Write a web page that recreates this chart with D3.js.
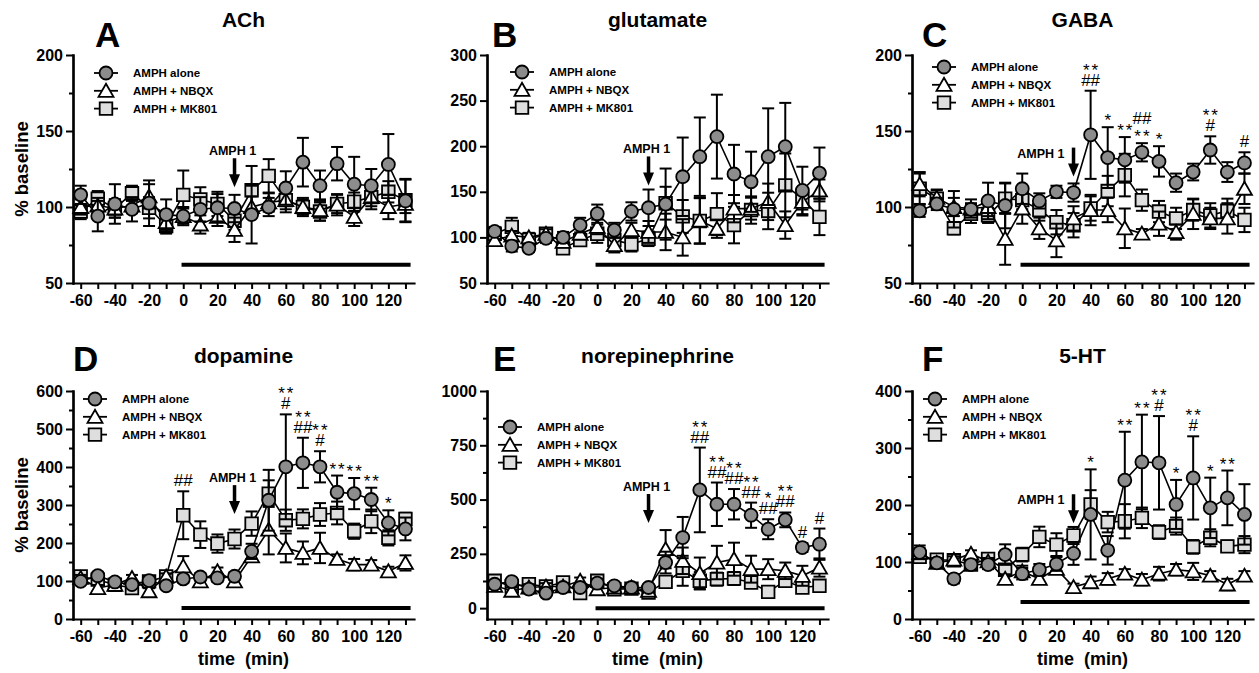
<!DOCTYPE html>
<html>
<head>
<meta charset="utf-8">
<script src="https://cdn.jsdelivr.net/npm/d3@7"></script>
<style>
  body { margin: 0; background: #fff; }
  text { font-family: "Liberation Sans", Arial, sans-serif; fill: #000; }
</style>
</head>
<body>
<svg id="fig" width="1259" height="673"></svg>
<script>
// sampling times (min)
var times = [-60,-50,-40,-30,-20,-10,0,10,20,30,40,50,60,70,80,90,100,110,120,130];
var xTicks = [-60,-50,-40,-30,-20,-10,0,10,20,30,40,50,60,70,80,90,100,110,120,130];
var seriesNames = ["AMPH alone", "AMPH + NBQX", "AMPH + MK801"];
var titles = ["ACh", "glutamate", "GABA", "dopamine", "norepinephrine", "5-HT"];
var letters = ["A", "B", "C", "D", "E", "F"];

// A - ACh
var achAlone    = [108,94,102,98.5,102.5,95,94,98.5,99.5,99,95,100,112.5,129.5,114,128.5,115,114,128,104];
var achAloneSem = [6,10,13,8,15,10,5,8,9,9,19,6,11,16,10,11,18,11,20,14];
var achNbqx     = [100,101,99,101,107,90,94,88.5,93.5,85,100,103,104.5,100,98,101.5,93.5,106.5,100,102];
var achNbqxSem  = [5,5,6,5,8,6,6,6,6,8,7,6,8,6,7,7,6,8,8,6];
var achMk       = [97,105.5,99,109,99.5,87.5,108,105,102,91,111,120.5,104.5,100,97,102,103.5,106.5,110,104.5];
var achMkSem    = [5,5,6,5,7,5,16,8,8,6,16,11,6,5,6,6,6,6,7,14];

// B - glutamate
var gluAlone    = [106.5,90.5,88,99,100,113.5,126,108,128.5,132.5,136.5,166.5,188.5,210.5,169.5,161,188.5,199.5,151.5,170.5];
var gluAloneSem = [5,6,4,5,6,8,10,8,10,20,39,43,43,46,32,33,53,48,26,28];
var gluNbqx     = [97,102,100,104,95,104,111.5,91.5,108,106,106,100,118.5,109.5,131.5,131.5,139,113.5,139,151.5];
var gluNbqxSem  = [5,5,5,5,6,6,8,8,8,12,20,20,25,10,15,12,20,15,15,12];
var gluMk       = [104,111.5,97.5,104,88,97,104,97,92.5,98.5,137.5,123,118,125.5,113.5,130,129,157,142.5,122.5];
var gluMkSem    = [6,10,5,5,6,6,10,8,8,8,18,18,25,23,20,15,20,35,12,20];

// C - GABA
var gabaAlone    = [97.5,102,98.5,98.5,104,101,112,104,110,109.5,147.5,132.5,131,136,130,116,123,137.5,123,129];
var gabaAloneSem = [4,4,12,4,12,15,10,5,4,6,29,20,15,6,10,6,5.5,9,6.5,7];
var gabaNbqx     = [115,106,100,99,100,79,99,86,78,92.5,98,98,86,82.5,89,83.5,95.5,92.5,92.5,112];
var gabaNbqxSem  = [8,5,6,6,6,17,10,7,11,8,10,8,13,3,8,5,10,7,10,10];
var gabaMk       = [112,105.5,86,95.5,94.5,105.5,104.5,98,90,88,99,110.5,121,104.5,97,92.5,98,94.5,97.5,91.5];
var gabaMkSem    = [10,6,4,6,5,10,6,7,8,8,8,10,14,7,7,7,7,8,8,8];

// D - dopamine
var daAlone    = [99,114,97.5,90.5,101,87.5,105.5,110.5,108,112.5,178,312.5,400.5,411,400.5,333.5,330,314.5,253,237];
var daAloneSem = [8,10,8,8,8,8,10,10,10,10,20,80,138,66,41,44,41,31,33,30];
var daNbqx     = [108,81.5,90,108,73,112,138.5,99,125.5,99,165,235,187,174,187,158,143,143,125.5,147.5];
var daNbqxSem  = [8,8,8,8,8,8,27,10,10,10,15,65,38,30,40,12,15,12,12,20];
var daMk       = [112,103.5,90,81.5,99,112,273,222,198.5,210.5,251,330,260,263.5,275,279,231,257,213.5,263.5];
var daMkSem    = [8,10,8,8,8,10,63,35,24,25,32,35,28,25,30,30,20,31,20,16];

// E - norepinephrine
var neAlone    = [110,122.5,87.5,69,95,95,115,103,95,95,210,325,544.5,478.5,478.5,428,363.5,406.5,279,294.5];
var neAloneSem = [15,15,10,10,15,15,20,15,10,15,50,95,195,100,70,58,46,34,20,72];
var neNbqx     = [103,80,95,100,100,126,87,95,95,80,271.5,218,161,210,225.5,179.5,179.5,172,149,187];
var neNbqxSem  = [15,15,15,15,15,15,20,15,15,15,88,61,72,77,76,62,46,38,46,42];
var neMk       = [126,100,110,100,118,69,126,87,90,72,121,172,126,133.5,136.5,118,75,126,95,103];
var neMkSem    = [15,15,15,15,15,15,20,15,15,15,20,69,40,30,30,25,25,25,25,25];

// F - 5-HT
var htAlone    = [117,98.5,70.5,95.5,95.5,113,79.5,86.5,96.5,115,183.5,120.5,243.5,275.5,274,201,247.5,195,212.5,183.5];
var htAloneSem = [12,8,8,8,8,18,10,10,12,20,79,25,85,83,82,43,73,53,48,53];
var htNbqx     = [116,98.5,104,114.5,101,70.5,83.5,70.5,88,56,64.5,70.5,79.5,69,79.5,86.5,83.5,76,60.5,76];
var htNbqxSem  = [8,6,6,6,6,8,10,8,8,6,10,10,8,10,12,10,15,8,10,8];
var htMk       = [109,104,103,95.5,105.5,86.5,113,144,130.5,146.5,201,170,171.5,177.5,152.5,163,126.5,142.5,127.5,130.5];
var htMkSem    = [10,8,8,8,8,10,12,18,20,15,25,18,30,18,12,15,12,15,10,15];

// y axes
var yDomains = [[50,200],[50,300],[50,200],[0,600],[-50,1000],[0,400]];
var yMajor = [[50,100,150,200],[50,100,150,200,250,300],[50,100,150,200],
              [0,100,200,300,400,500,600],[0,250,500,750,1000],[0,100,200,300,400]];
var yMinor = [[75,125,175],[],[75,125,175],
              [50,150,250,350,450,550],[125,375,625,875],[50,150,250,350]];

// drug bar level, arrow tip (value at t=30)
var drugBar = [62, 70, 62, 29, 0, 30];
var drugSpan = [-1, 133];
var arrowTip = [113, 157, 120, 276, 392, 168];
var arrowSide = ["above","above","left","above","above","left"];

// significance marks: [time, series, lines top->bottom]
var gabaNotes = [[40,0,["**","##"]],[50,0,["*"]],[60,0,["**"]],[70,0,["##","**"]],[80,0,["*"]],[110,0,["**","#"]],[130,0,["#"]]];
var daNotes = [[0,2,["##"]],[60,0,["**","#"]],[70,0,["**","##"]],[80,0,["**","#"]],[90,0,["**"]],[100,0,["**"]],[110,0,["**"]],[120,0,["*"]]];
var neNotes = [[60,0,["**","##"]],[70,0,["**","##"]],[80,0,["**","##"]],[90,0,["**","##"]],[100,0,["*","##"]],[110,0,["**","##"]],[120,0,["#"]],[130,0,["#"]]];
var htNotes = [[40,0,["*"]],[60,0,["**"]],[70,0,["**"]],[80,0,["**","#"]],[90,0,["*"]],[100,0,["**","#"]],[110,0,["*"]],[120,0,["**"]]];

var panels = [
  {vals:[achAlone,achNbqx,achMk], sems:[achAloneSem,achNbqxSem,achMkSem], notes:[]},
  {vals:[gluAlone,gluNbqx,gluMk], sems:[gluAloneSem,gluNbqxSem,gluMkSem], notes:[]},
  {vals:[gabaAlone,gabaNbqx,gabaMk], sems:[gabaAloneSem,gabaNbqxSem,gabaMkSem], notes:gabaNotes},
  {vals:[daAlone,daNbqx,daMk], sems:[daAloneSem,daNbqxSem,daMkSem], notes:daNotes},
  {vals:[neAlone,neNbqx,neMk], sems:[neAloneSem,neNbqxSem,neMkSem], notes:neNotes},
  {vals:[htAlone,htNbqx,htMk], sems:[htAloneSem,htNbqxSem,htMkSem], notes:htNotes}
];

// layout
var colLeft = [73, 487, 912], rowTop = [55, 391];
var plotW = 341, plotH = 228;
var xDomain = [-64.5, 135];
var legendPos = [[33,18],[35,17],[32,12],[22,8],[23,36],[23,8]];
var letterPos = [[22,-8],[5,-8],[10,-8],[0,-20],[6,-20],[10,-20]];
var fills = ["#8c8c8c", "#ffffff", "#dedede"];

function markerPath(s) {
  if (s == 0) return d3.symbol(d3.symbolCircle, Math.PI * 6.5 * 6.5)();
  if (s == 1) return "M0,-7L7.5,6L-7.5,6Z";
  return "M-6.3,-6.3H6.3V6.3H-6.3Z";
}

var svg = d3.select("#fig");

panels.forEach(function(p, i) {
  var col = i % 3, row = Math.floor(i / 3);
  var L = colLeft[col], T = rowTop[row];
  var g = svg.append("g");
  var x = d3.scaleLinear().domain(xDomain).range([L, L + plotW]);
  var y = d3.scaleLinear().domain(yDomains[i]).range([T + plotH, T]);

  // title + letter
  g.append("text").attr("x", L + plotW / 2).attr("y", T - 28).attr("text-anchor", "middle")
    .style("font-size", "21px").style("font-weight", "bold").text(titles[i]);
  g.append("text").attr("x", L + letterPos[i][0]).attr("y", T + letterPos[i][1])
    .style("font-size", "35px").style("font-weight", "bold").text(letters[i]);

  // axes
  var minorAx = g.append("g").attr("transform", "translate(" + L + ",0)")
    .call(d3.axisLeft(y).tickValues(yMinor[i]).tickSize(4).tickFormat("").tickSizeOuter(0));
  var yAx = g.append("g").attr("transform", "translate(" + L + ",0)")
    .call(d3.axisLeft(y).tickValues(yMajor[i]).tickSize(7).tickPadding(3).tickSizeOuter(0)
      .tickFormat(d3.format("d")));
  var xAx = g.append("g").attr("transform", "translate(0," + (T + plotH) + ")")
    .call(d3.axisBottom(x).tickValues(xTicks).tickSize(6).tickPadding(6).tickSizeOuter(0)
      .tickFormat(function(d) { return d % 20 == 0 ? d : ""; }));
  [minorAx, yAx, xAx].forEach(function(a) {
    a.select(".domain").attr("stroke", "#000").attr("stroke-width", 2.2).attr("stroke-linecap", "square");
    a.selectAll(".tick line").attr("stroke", "#000").attr("stroke-width", 2);
    a.selectAll(".tick text").style("font-size", "16px").style("font-weight", "bold").attr("fill", "#000");
  });

  if (col == 0) {
    g.append("text").attr("transform", "translate(28," + (T + plotH / 2) + ") rotate(-90)")
      .attr("text-anchor", "middle").style("font-size", "18.5px").style("font-weight", "bold").text("% baseline");
  }
  if (row == 1) {
    g.append("text").attr("x", L + plotW / 2).attr("y", 665).attr("text-anchor", "middle")
      .attr("xml:space", "preserve").style("white-space", "pre")
      .style("font-size", "18px").style("font-weight", "bold").text("time  (min)");
  }

  // drug bar
  g.append("line").attr("x1", x(drugSpan[0])).attr("x2", x(drugSpan[1]))
    .attr("y1", y(drugBar[i])).attr("y2", y(drugBar[i]))
    .attr("stroke", "#000").attr("stroke-width", 4);

  // series: MK801 first, then NBQX, then alone on top
  [2, 1, 0].forEach(function(s) {
    var pts = times.map(function(t, k) { return {t: t, v: p.vals[s][k], e: p.sems[s][k]}; });
    var sg = g.append("g");
    pts.forEach(function(d) {
      var cx = x(d.t), y1 = y(d.v + d.e), y2 = y(d.v - d.e);
      sg.append("line").attr("x1", cx).attr("x2", cx).attr("y1", y1).attr("y2", y2)
        .attr("stroke", "#000").attr("stroke-width", 2);
      [y1, y2].forEach(function(yy) {
        sg.append("line").attr("x1", cx - 6).attr("x2", cx + 6).attr("y1", yy).attr("y2", yy)
          .attr("stroke", "#000").attr("stroke-width", 2);
      });
    });
    sg.append("path").datum(pts)
      .attr("d", d3.line().x(function(d) { return x(d.t); }).y(function(d) { return y(d.v); }))
      .attr("fill", "none").attr("stroke", "#000").attr("stroke-width", 1.6);
    sg.selectAll("path.mk").data(pts).enter().append("path").attr("class", "mk")
      .attr("d", markerPath(s))
      .attr("transform", function(d) { return "translate(" + x(d.t) + "," + y(d.v) + ")"; })
      .attr("fill", fills[s]).attr("stroke", "#000").attr("stroke-width", 1.8);
  });

  // significance marks
  p.notes.forEach(function(n) {
    var k = times.indexOf(n[0]);
    var cap = y(p.vals[n[1]][k] + p.sems[n[1]][k]);
    var lines = n[2];
    for (var j = lines.length - 1, lvl = 0; j >= 0; j--, lvl++) {
      var centre = cap - 11 - lvl * 14;
      var isStar = lines[j].indexOf("*") >= 0;
      g.append("text").attr("x", x(n[0]) + (isStar ? 1 : 0))
        .attr("y", centre + (isStar ? 10 : 6))
        .attr("text-anchor", "middle").attr("fill", "#000")
        .style("font-size", "17px").style("letter-spacing", isStar ? "2px" : "0px")
        .text(lines[j]);
    }
  });

  // AMPH 1 arrow
  var ax = x(30), tip = y(arrowTip[i]);
  g.append("line").attr("x1", ax).attr("x2", ax).attr("y1", tip - 29).attr("y2", tip - 11)
    .attr("stroke", "#000").attr("stroke-width", 3.5);
  g.append("path").attr("d", "M" + (ax - 5.5) + "," + (tip - 13) + "L" + (ax + 5.5) + "," + (tip - 13) + "L" + ax + "," + tip + "Z")
    .attr("fill", "#000");
  if (arrowSide[i] == "above") {
    g.append("text").attr("x", ax - 2).attr("y", tip - 32).attr("text-anchor", "middle")
      .style("font-size", "12.5px").style("font-weight", "bold").text("AMPH 1");
  } else {
    g.append("text").attr("x", ax - 9).attr("y", tip - 19).attr("text-anchor", "end")
      .style("font-size", "12.5px").style("font-weight", "bold").text("AMPH 1");
  }

  // legend
  var lx = L + legendPos[i][0], ly = T + legendPos[i][1];
  [0, 1, 2].forEach(function(s) {
    var yy = ly + s * 17.8;
    g.append("line").attr("x1", lx - 12).attr("x2", lx + 12).attr("y1", yy).attr("y2", yy)
      .attr("stroke", "#000").attr("stroke-width", 1.8);
    g.append("path").attr("d", markerPath(s)).attr("transform", "translate(" + lx + "," + yy + ")")
      .attr("fill", fills[s]).attr("stroke", "#000").attr("stroke-width", 1.8);
    g.append("text").attr("x", lx + 27).attr("y", yy + 4)
      .style("font-size", "11.5px").style("font-weight", "bold").text(seriesNames[s]);
  });
});
</script>
</body>
</html>
